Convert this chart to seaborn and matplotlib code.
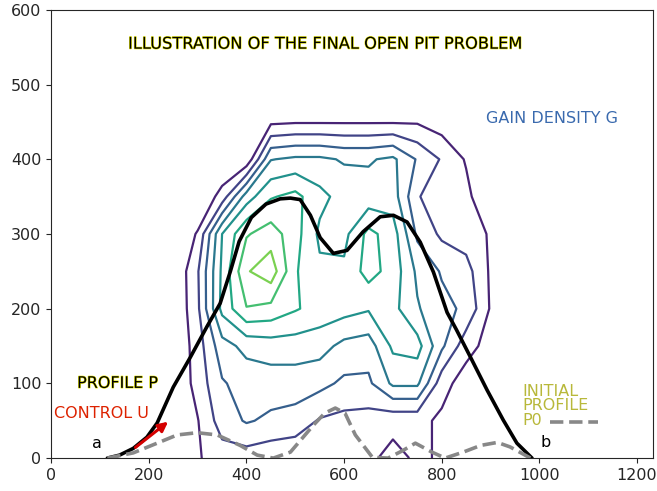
import numpy as np
import pandas as pd
import matplotlib
matplotlib.use("Agg")
import matplotlib.pyplot as plt
import matplotlib.patheffects as pe
from matplotlib.colors import Normalize
import seaborn as sns

# gain density G on a 50 x 50 grid (rows = y, columns = x)
grid_x = [200, 250, 300, 350, 400, 450, 500, 550, 600, 650, 700, 750, 800, 850, 900, 950]
grid_y = [0, 50, 100, 150, 200, 250, 300, 350, 400, 450, 500]
gain_rows = [
    [0, 0, 0.9, 1.5, 1.5, 1.3, 1.2, 1.3, 1.3, 1.2, 0.7, 1.15, 0.9, 0, 0, 0],
    [0, 0, 0.95, 2.5, 3.1, 2.8, 2.6, 1.9, 1.7, 1.6, 1.3, 1.3, 0.8, 0, 0, 0],
    [0, 0, 1.4, 2.9, 3.4, 3.5, 3.5, 3.3, 2.8, 2.8, 4.2, 4.2, 1.4, 0.5, 0, 0],
    [0, 0, 1.5, 3.6, 4.3, 4.5, 4.5, 4.4, 3.7, 3.5, 5.2, 5.4, 3.2, 1.4, 0.6, 0],
    [0, 0, 1.8, 5.3, 6.95, 6.7, 6.1, 5.6, 5.4, 5.1, 5.3, 4.1, 3.3, 2.8, 0.9, 0],
    [0, 0, 1.9, 5.2, 7.9, 8.6, 6.1, 5.2, 5.2, 6.4, 5.6, 3.8, 2.9, 2.4, 0.85, 0],
    [0, 0, 1.1, 5.0, 6.9, 7.5, 6.4, 4.8, 4.7, 6.3, 5.5, 2.8, 1.8, 1.5, 0.9, 0],
    [0, 0, 0, 1.4, 4.5, 5.9, 6.3, 5.3, 4.6, 4.4, 4.5, 2.1, 1.3, 1.3, 0, 0],
    [0, 0, 0, 0, 0.2, 3.95, 4.2, 4.2, 3.9, 3.9, 4.2, 2.9, 1.9, 0.9, 0, 0],
    [0, 0, 0, 0, 0, 0.8, 0.9, 0.9, 0.9, 0.9, 0.9, 0.9, 0.5, 0, 0, 0],
    [0] * 16,
]
gain_levels = [1, 2, 3, 4, 5, 6, 7, 8]

# final profile P
profile_x = [115, 140, 168, 196, 217, 250, 285, 319, 346, 367, 385, 410, 440, 469, 490,
             510, 531, 551, 578, 606, 639, 674, 701, 729, 756, 783, 811, 830, 859, 893,
             926, 954, 985]
profile_y = [0, 4, 13, 28, 47, 95, 135, 176, 207, 250, 290, 322, 340, 347, 348,
             346, 325, 295, 274, 278, 303, 323, 325, 316, 289, 249, 195, 172, 135, 91,
             51, 20, 0]

# initial profile P0
initial_x = [115, 168, 217, 258, 299, 340, 387, 422, 455, 490, 537, 560, 582, 602, 623,
             658, 690, 720, 746, 780, 807, 844, 880, 914, 940, 982]
initial_y = [0, 7, 20, 31, 34, 31, 17, 4, 0, 8, 44, 60, 67, 60, 31,
             1, 0, 10, 20, 8, 0, 8, 17, 21, 15, 0]

# little dashed sample next to the P0 label
p0_key_x = [1022, 1120]
p0_key_y = [48, 48]

sns.set_style("ticks")

fig, ax = plt.subplots(figsize=(6.57, 4.91), dpi=100)
fig.subplots_adjust(left=0.078, right=0.994, bottom=0.067, top=0.98)

G = np.array(gain_rows)
ax.contour(grid_x, grid_y, G, levels=gain_levels, cmap="viridis",
           norm=Normalize(0, 10), linewidths=1.6)

prof = pd.DataFrame({"x": profile_x, "y": profile_y})
init = pd.DataFrame({"x": initial_x, "y": initial_y})
sns.lineplot(data=prof, x="x", y="y", sort=False, color="black", linewidth=2.6, ax=ax)
sns.lineplot(data=init, x="x", y="y", sort=False, color="#888888", linewidth=2.6,
             linestyle="--", ax=ax)
ax.plot(p0_key_x, p0_key_y, color="#888888", linewidth=2.6, linestyle="--")

glow = [pe.withStroke(linewidth=0.8, foreground="#e8e800")]
ax.text(561, 554, "ILLUSTRATION OF THE FINAL OPEN PIT PROBLEM", ha="center", va="center",
        fontsize=11.7, color="black", path_effects=glow)
ax.text(891, 454, "GAIN DENSITY G", ha="left", va="center", fontsize=11.5, color="#3a6aae")
ax.text(53, 100, "PROFILE P", ha="left", va="center", fontsize=11.5, color="black",
        path_effects=glow)
ax.text(6, 60, "CONTROL U", ha="left", va="center", fontsize=11.5, color="#dd2200")
ax.text(94, 20, "a", ha="center", va="center", fontsize=11.5, color="black")
ax.text(1012, 21, "b", ha="center", va="center", fontsize=11.5, color="black")
ax.text(965, 70, "INITIAL\nPROFILE\nP0", ha="left", va="center", fontsize=11.5,
        color="#b8b83a", linespacing=0.95)
ax.annotate("", xy=(244, 51), xytext=(168, 12),
            arrowprops=dict(arrowstyle="-|>", color="#d40000", lw=2.2, mutation_scale=14))

ax.set_xlim(0, 1233)
ax.set_ylim(0, 600)
ax.set_xticks([0, 200, 400, 600, 800, 1000, 1200])
ax.set_yticks([0, 100, 200, 300, 400, 500, 600])
ax.tick_params(labelsize=11.5)
ax.set_xlabel("")
ax.set_ylabel("")

fig.savefig("out.png", dpi=100)
